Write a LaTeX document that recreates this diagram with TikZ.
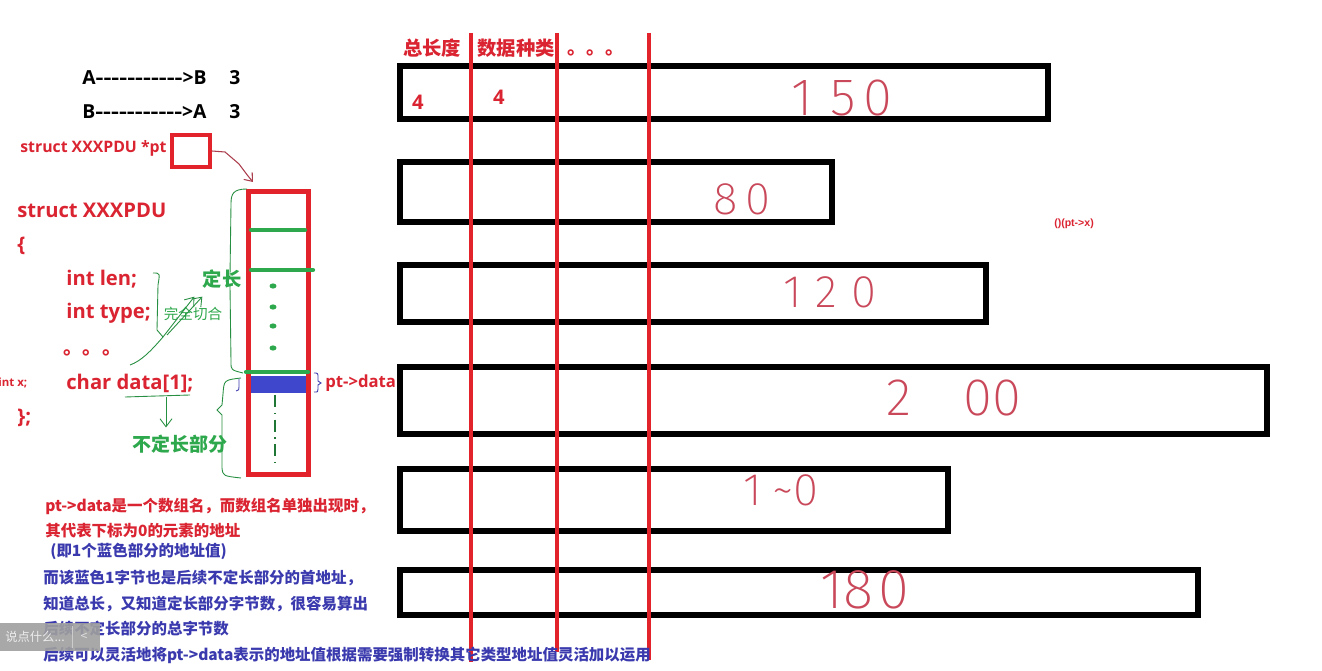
\documentclass[tikz,border=0pt]{standalone}
\usepackage{fontspec}
\usepackage{graphicx}
\setmainfont{Open Sans}
\newfontfamily\cjk{Noto Sans CJK SC}
\newfontfamily\hand{Fira Sans ExtraLight}
\newfontfamily\arialf{Liberation Sans}
\usepackage{xcolor}
\usepackage{tikz}
\usetikzlibrary{positioning,arrows.meta,calc}
\definecolor{pdured}{HTML}{DA2431}
\definecolor{lnred}{HTML}{E2232B}
\definecolor{pdugreen}{HTML}{2EA84C}
\definecolor{pdublue}{HTML}{3A3AAE}
\definecolor{fillblue}{HTML}{3F48CC}
\definecolor{inkred}{HTML}{C9485A}
\newcommand\dsh{-\kern0pt}

\begin{document}
\begin{tikzpicture}[
    x=0.02cm, y=-0.02cm,
    codeline/.style={anchor=west, inner sep=0pt, text=pdured, font=\bfseries\fontsize{11.5}{12}\selectfont},
    notetxt/.style={anchor=west, inner sep=0pt, font=\cjk\bfseries\fontsize{8.8}{10}\selectfont},
    fieldtxt/.style={inner sep=0pt, text=pdured, font=\cjk\bfseries\fontsize{11}{12}\selectfont},
    tagtxt/.style={inner sep=0pt, text=pdugreen, font=\cjk\bfseries\fontsize{11}{12}\selectfont},
    inknum/.style={inner sep=0pt, text=inkred},
    rowbox/.style={draw=black, line width=3.1pt},
    colline/.style={draw=lnred, line width=2.3pt},
    greenbar/.style={draw=pdugreen, line width=2.4pt, line cap=round},
    handbrace/.style={draw=pdugreen!85!black, line width=0.5pt},
    handarrow/.style={handbrace, -{Straight Barb[length=1.6mm, width=2.4mm]}},
    ptarrow/.style={draw=inkred!85!black, line width=0.6pt, -{Straight Barb[length=1.4mm, width=2.2mm]}}
]
    \useasboundingbox (0,0) rectangle (1322,671);
    \fill[white] (0,0) rectangle (1322,671);

    % direction lines
    \node[anchor=west, inner sep=0pt, font=\bfseries\fontsize{11}{12}\selectfont] (ab) at (82,78)
        {A\scalebox{1.27}[1]{\dsh\dsh\dsh\dsh\dsh\dsh\dsh\dsh\dsh\dsh\dsh}>B\hspace{13pt}3};
    \node[anchor=west, inner sep=0pt, font=\bfseries\fontsize{11}{12}\selectfont] (ba) at (82,112)
        {B\scalebox{1.27}[1]{\dsh\dsh\dsh\dsh\dsh\dsh\dsh\dsh\dsh\dsh\dsh}>A\hspace{13pt}3};

    % pointer and struct memory
    \node[anchor=west, inner sep=0pt, text=pdured, font=\bfseries\fontsize{9}{10}\selectfont] (ptdecl) at (20,148) {struct XXXPDU *pt};
    \node[draw=lnred, line width=2.3pt, minimum width=0.76cm, minimum height=0.64cm, inner sep=0pt] (ptbox) at (191,151) {};
    \node[draw=lnred, line width=2.9pt, minimum width=1.2cm, minimum height=5.66cm, inner sep=0pt] (col) at (278.5,333) {};
    \fill[fillblue] (251,376) rectangle (306,393);
    \draw[greenbar] (251,230) -- (305,230);
    \draw[greenbar] (251,270) -- (313,270);
    \draw[greenbar] (246,372) -- (308,372);
    \foreach \y in {286,307,326,348}
        \fill[pdugreen] (273,\y) ellipse (3.5 and 2.6);
    \draw[pdugreen!70!black, line width=0.6pt, dash pattern=on 7pt off 3pt on 1pt off 3pt] (275,395) -- (275,462);

    \coordinate (tip) at ($(col.north west)+(7,-7)$);
    \draw[ptarrow] (ptbox.east) -- ++(13,1) -- ++(14,12) -- ++(9,12) -- (tip);

    % braces beside the column
    \draw[handbrace] (247,189) .. controls (233,189) and (231,194) .. (231,204) -- (230,276) -- (226,281) -- (230,286) -- (231,362) .. controls (231,370) .. (243,373);
    \draw[handbrace] (241,378) .. controls (224,380) .. (223,394) -- (222,405) -- (217,410) -- (222,415) -- (222,468) .. controls (223,476) .. (241,478);
    \draw[pdublue, line width=0.5pt] (314,373) .. controls (318,373) .. (318,378) -- (318,381) -- (321,383) -- (318,385) -- (318,389) .. controls (318,392) .. (314,392);
    \draw[pdublue, line width=0.5pt] (239,379) -- (239,387) .. controls (239,390) .. (236,391);

    % struct text
    \node[codeline] (sname) at (17,210) {struct XXXPDU};
    \node[codeline] (sopen) at (17,246) {\{};
    \node[codeline] (slen) at (66,279) {int len;};
    \node[codeline] (stype) at (66,313) {int type;};
    \node[codeline, font=\cjk\bfseries\fontsize{11}{12}\selectfont] (sdots) at (63,353) {。。。};
    \node[codeline] (cdata) at (66,383) {char data[1];};
    \node[codeline] (sclose) at (17,418) {\};};
    \node[anchor=west, inner sep=0pt, text=pdured, font=\bfseries\fontsize{6.5}{7}\selectfont] (intx) at (-2,383) {int x;};
    \node[anchor=west, inner sep=0pt, text=pdured, font=\bfseries\fontsize{9.5}{10}\selectfont] (ptdata) at (325,383) {pt->data};

    \node[tagtxt] (fixlen) at (222,279) {定长};
    \node[tagtxt, font=\cjk\fontsize{8.3}{9}\selectfont] (fit) at (193,314) {完全切合};
    \node[tagtxt, font=\cjk\bfseries\fontsize{10.8}{11}\selectfont] (varlen) at (180,444) {不定长部分};

    % hand marks on the struct
    \coordinate (bt) at (163,337);
    \draw[handbrace] (153,273) .. controls (160,273) .. (158,285) -- (157,330) -- (bt);
    \draw[handbrace] (bt) .. controls (150,352) and (141,361) .. (130,365);
    \draw[handarrow] (bt) -- ($(fixlen.south west)+(-8,8)$);
    \draw[handarrow] ($(bt)+(4,-2)$) -- ($(fixlen.south west)+(0,8)$);
    \draw[handbrace] (125,397) -- (190,395);
    \coordinate (ul) at (166,397);
    \draw[handarrow] (ul) -- ($(varlen.north)+(-14,-7)$);

    % fields of the packets
    \node[fieldtxt] (total) at (432,48) {总长度};
    \node[fieldtxt] (kind) at (516,48) {数据种类};
    \node[fieldtxt, anchor=west, font=\cjk\bfseries\fontsize{10.8}{11}\selectfont] (more) at (567,53) {。。。};
    \foreach \r/\t/\b in {1048/66/119, 832/162/222, 986/265/322, 1267/367/434, 948/469/531, 1198/570/615}
        \draw[rowbox] (400,\t) rectangle (\r,\b);
    \foreach \x/\e in {471/662, 557/652, 649/660}
        \draw[colline] (\x,33) -- (\x,\e);
    \node[inner sep=0pt, text=pdured, font=\bfseries\fontsize{11.5}{12}\selectfont] (lenval) at (418,102) {4};
    \node[inner sep=0pt, text=pdured, font=\bfseries\fontsize{11.5}{12}\selectfont] (kindval) at (499,97) {4};

    \node[inknum, font=\hand\fontsize{30}{32}\selectfont] (n150) at (842,98) {1\hspace{10pt}5\hspace{4pt}0};
    \node[inknum, font=\hand\fontsize{26}{28}\selectfont] (n80) at (742,199) {8\hspace{4pt}0};
    \node[inknum, font=\hand\fontsize{26}{28}\selectfont] (n120) at (830,292) {1\hspace{8pt}2\hspace{8pt}0};
    \node[inknum, font=\hand\fontsize{30}{32}\selectfont] (n200) at (954,398) {2\hspace{30pt}00};
    \node[inknum, font=\hand\fontsize{26}{28}\selectfont] (n100) at (781,490) {1\hspace{6pt}\textasciitilde 0};
    \node[inknum, font=\hand\fontsize{32}{34}\selectfont] (n180) at (865,590) {18\hspace{3pt}0};
    \node[inner sep=0pt, text=pdured, font=\arialf\bfseries\fontsize{6}{7}\selectfont] (cast) at (1074,224) {()(pt->x)};

    % notes
    \node[notetxt, text=pdured] (n1) at (45,506) {pt->data是一个数组名，而数组名单独出现时，};
    \node[notetxt, text=pdured] (n2) at (45,531) {其代表下标为0的元素的地址};
    \node[notetxt, text=pdublue] (n3) at (50,551) {(即1个蓝色部分的地址值)};
    \node[notetxt, text=pdublue] (n4) at (43,578) {而该蓝色1字节也是后续不定长部分的首地址，};
    \node[notetxt, text=pdublue] (n5) at (43,604) {知道总长，又知道定长部分字节数，很容易算出};
    \node[notetxt, text=pdublue] (n6) at (43,629) {后续不定长部分的总字节数};
    \node[notetxt, text=pdublue] (n7) at (43,655) {后续可以灵活地将pt->data表示的地址值根据需要强制转换其它类型地址值灵活加以运用};

    % overlay bar
    \fill[gray!75, opacity=0.9] (0,623) rectangle (100,651);
    \draw[gray!40, line width=0.4pt] (72,626) -- (72,648);
    \node[anchor=west, inner sep=0pt, text=gray!15, font=\cjk\fontsize{7}{8}\selectfont] (say) at (5,637) {说点什么...};
    \node[inner sep=0pt, text=gray!25, font=\cjk\fontsize{7}{8}\selectfont] (back) at (84,637) {<};
\end{tikzpicture}
\end{document}
